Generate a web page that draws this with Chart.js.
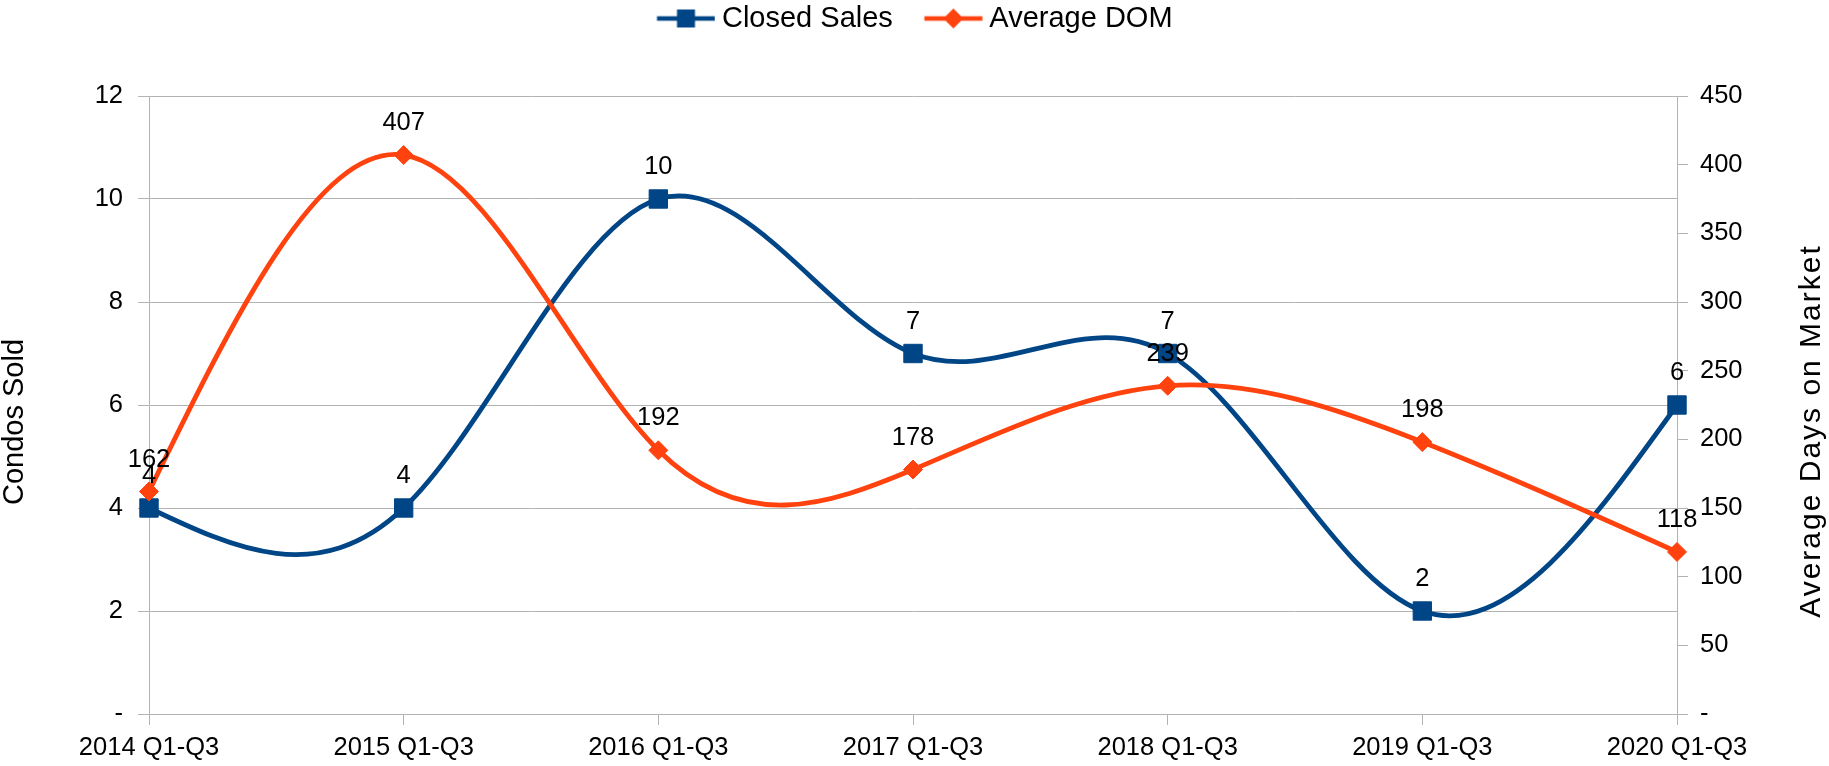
<!DOCTYPE html>
<html>
<head>
<meta charset="utf-8">
<script src="https://cdn.jsdelivr.net/npm/chart.js@4/dist/chart.umd.min.js"></script>
<style>
  html, body { margin: 0; padding: 0; background: #ffffff; }
  #wrap { width: 1829px; height: 766px; }
</style>
</head>
<body>
<div id="wrap"><canvas id="c" width="1829" height="766"></canvas></div>
<script>
// ---- data ----
const categories = ['2014 Q1-Q3', '2015 Q1-Q3', '2016 Q1-Q3', '2017 Q1-Q3', '2018 Q1-Q3', '2019 Q1-Q3', '2020 Q1-Q3'];
const closedSales = [4, 4, 10, 7, 7, 2, 6];
const averageDOM = [162, 407, 192, 178, 239, 198, 118];
const leftTicks = [0, 2, 4, 6, 8, 10, 12];
const rightTicks = [0, 50, 100, 150, 200, 250, 300, 350, 400, 450];
const leftTitle = 'Condos Sold';
const rightTitle = 'Average Days on Market';

// ---- styles ----
const BLUE = '#004586';
const ORANGE = '#ff420e';
const GRID = '#b3b3b3';
const FONT = '"Liberation Sans", Arial, sans-serif';
const TICK_SIZE = 25.5;

Chart.defaults.font.family = FONT;
Chart.defaults.color = '#000000';

function legendImage(color, shape) {
  const cv = document.createElement('canvas');
  cv.width = 94; cv.height = 24;
  const g = cv.getContext('2d');
  g.strokeStyle = color; g.lineWidth = 4.5;
  g.beginPath(); g.moveTo(35.5, 12); g.lineTo(93.5, 12); g.stroke();
  g.fillStyle = color;
  const cx = 64.5, cy = 12;
  g.beginPath();
  if (shape === 'rect') {
    g.rect(cx - 9, cy - 9, 18, 18);
  } else {
    g.moveTo(cx - 10, cy); g.lineTo(cx, cy - 10); g.lineTo(cx + 10, cy); g.lineTo(cx, cy + 10); g.closePath();
  }
  g.fill();
  return cv;
}
const legendImgs = [legendImage(BLUE, 'rect'), legendImage(ORANGE, 'diamond')];

// reserve the space between legend and plot, and re-centre the visible legend
const legendSpacer = {
  id: 'legendSpacer',
  beforeLayout(chart) {
    const lg = chart.legend;
    if (lg && !lg._spacerPatched) {
      const f = lg.fit;
      lg.fit = function () {
        f.call(this);
        this.height = 96;
        if (this.lineWidths && this.lineWidths.length) this.lineWidths[0] += 27;
      };
      lg._spacerPatched = true;
    }
  }
};

// natural cubic spline through the points placed by Chart.js
const naturalSpline = {
  id: 'naturalSpline',
  beforeDatasetsDraw(chart) {
    chart.data.datasets.forEach((ds, di) => {
      const meta = chart.getDatasetMeta(di);
      const line = meta.dataset;
      const pts = meta.data;
      const n = pts.length;
      if (!line || n < 3) return;
      line.updateControlPoints(chart.chartArea, 'x');
      const xs = pts.map(p => p.x), ys = pts.map(p => p.y);
      const h = [];
      for (let i = 0; i < n - 1; i++) h[i] = xs[i + 1] - xs[i];
      const M = new Array(n).fill(0);
      const cp = [], dp = [];
      for (let i = 1; i < n - 1; i++) {
        const a = h[i - 1], b = 2 * (h[i - 1] + h[i]), c = h[i];
        const d = 6 * ((ys[i + 1] - ys[i]) / h[i] - (ys[i] - ys[i - 1]) / h[i - 1]);
        if (i === 1) { cp[i] = c / b; dp[i] = d / b; }
        else {
          const den = b - a * cp[i - 1];
          cp[i] = c / den; dp[i] = (d - a * dp[i - 1]) / den;
        }
      }
      for (let i = n - 2; i >= 1; i--) {
        M[i] = dp[i] - cp[i] * (i + 1 <= n - 2 ? M[i + 1] : 0);
      }
      const D = [];
      for (let i = 0; i < n - 1; i++) D[i] = (ys[i + 1] - ys[i]) / h[i] - h[i] * (2 * M[i] + M[i + 1]) / 6;
      D[n - 1] = (ys[n - 1] - ys[n - 2]) / h[n - 2] + h[n - 2] * (M[n - 2] + 2 * M[n - 1]) / 6;
      for (let i = 0; i < n; i++) {
        const hl = i > 0 ? h[i - 1] : h[0];
        const hr = i < n - 1 ? h[i] : h[n - 2];
        const p = pts[i];
        p.cp1x = xs[i] - hl / 3; p.cp1y = ys[i] - D[i] * hl / 3;
        p.cp2x = xs[i] + hr / 3; p.cp2y = ys[i] + D[i] * hr / 3;
      }
      line._path = undefined;
    });
  }
};

const pointLabels = {
  id: 'pointLabels',
  afterDatasetsDraw(chart) {
    const ctx = chart.ctx;
    ctx.save();
    ctx.font = TICK_SIZE + 'px ' + FONT;
    ctx.fillStyle = '#000000';
    ctx.textAlign = 'center';
    ctx.textBaseline = 'middle';
    chart.data.datasets.forEach((ds, di) => {
      const meta = chart.getDatasetMeta(di);
      meta.data.forEach((pt, i) => {
        ctx.fillText(String(ds.data[i]), pt.x, pt.y - 32);
      });
    });
    ctx.restore();
  }
};

// both axis titles read bottom-to-top
const axisTitles = {
  id: 'axisTitles',
  afterDraw(chart) {
    const ctx = chart.ctx;
    ctx.save();
    ctx.fillStyle = '#000000';
    ctx.textAlign = 'center';
    ctx.textBaseline = 'middle';
    ctx.font = '29px ' + FONT;
    ctx.translate(15, 422);
    ctx.rotate(-Math.PI / 2);
    ctx.fillText(leftTitle, 0, 0);
    ctx.restore();
    ctx.save();
    ctx.fillStyle = '#000000';
    ctx.textAlign = 'center';
    ctx.textBaseline = 'middle';
    ctx.font = '30px ' + FONT;
    if ('letterSpacing' in ctx) ctx.letterSpacing = '2px';
    ctx.translate(1812, 431);
    ctx.rotate(-Math.PI / 2);
    ctx.fillText(rightTitle, 0, 0);
    ctx.restore();
  }
};

new Chart(document.getElementById('c'), {
  type: 'line',
  data: {
    labels: categories,
    datasets: [
      {
        label: 'Closed Sales',
        data: closedSales,
        yAxisID: 'y',
        borderColor: BLUE,
        backgroundColor: BLUE,
        borderWidth: 4.8,
        pointStyle: 'rect',
        pointRadius: 13,
        pointBorderWidth: 1,
        pointBackgroundColor: BLUE,
        pointBorderColor: BLUE,
        tension: 0.4,
        fill: false,
        order: 2
      },
      {
        label: 'Average DOM',
        data: averageDOM,
        yAxisID: 'y1',
        borderColor: ORANGE,
        backgroundColor: ORANGE,
        borderWidth: 4.8,
        pointStyle: 'rectRot',
        pointRadius: 9.5,
        pointBorderWidth: 1,
        pointBackgroundColor: ORANGE,
        pointBorderColor: ORANGE,
        tension: 0.4,
        fill: false,
        order: 1
      }
    ]
  },
  options: {
    responsive: false,
    animation: false,
    devicePixelRatio: 1,
    layout: { padding: 0 },
    plugins: {
      tooltip: { enabled: false },
      legend: {
        display: true,
        position: 'top',
        align: 'center',
        labels: {
          font: { size: 29, family: FONT },
          color: '#000000',
          usePointStyle: true,
          pointStyleWidth: 78,
          padding: 4,
          generateLabels: () => [
            { text: 'Closed Sales', pointStyle: legendImgs[0], fillStyle: BLUE, strokeStyle: BLUE, lineWidth: 0, datasetIndex: 0, hidden: false, fontColor: '#000000' },
            { text: 'Average DOM', pointStyle: legendImgs[1], fillStyle: ORANGE, strokeStyle: ORANGE, lineWidth: 0, datasetIndex: 1, hidden: false, fontColor: '#000000' }
          ]
        }
      }
    },
    scales: {
      x: {
        type: 'category',
        offset: false,
        grid: { display: true, drawOnChartArea: false, drawTicks: true, tickLength: 11, color: GRID, lineWidth: 1 },
        border: { display: true, color: GRID, width: 1 },
        ticks: { font: { size: TICK_SIZE, family: FONT }, color: '#000000', padding: 8, maxRotation: 0, autoSkip: false },
        afterFit(s) { s.height = 52; }
      },
      y: {
        position: 'left',
        min: 0, max: 12,
        afterBuildTicks(s) { s.ticks = leftTicks.map(v => ({ value: v })); },
        grid: { display: true, drawOnChartArea: true, drawTicks: true, tickLength: 11, color: GRID, lineWidth: 1 },
        border: { display: true, color: GRID, width: 1 },
        ticks: { font: { size: TICK_SIZE, family: FONT }, color: '#000000', padding: 15, callback: v => (v === 0 ? '-' : String(v)) },
        title: { display: false },
        afterFit(s) { s.width = 149; }
      },
      y1: {
        position: 'right',
        min: 0, max: 450,
        afterBuildTicks(s) { s.ticks = rightTicks.map(v => ({ value: v })); },
        grid: { display: true, drawOnChartArea: false, drawTicks: true, tickLength: 11, color: GRID, lineWidth: 1 },
        border: { display: true, color: GRID, width: 1 },
        ticks: { font: { size: TICK_SIZE, family: FONT }, color: '#000000', padding: 12, callback: v => (v === 0 ? '-' : String(v)) },
        title: { display: false },
        afterFit(s) { s.width = 152; }
      }
    }
  },
  plugins: [legendSpacer, naturalSpline, pointLabels, axisTitles]
});
</script>
</body>
</html>
